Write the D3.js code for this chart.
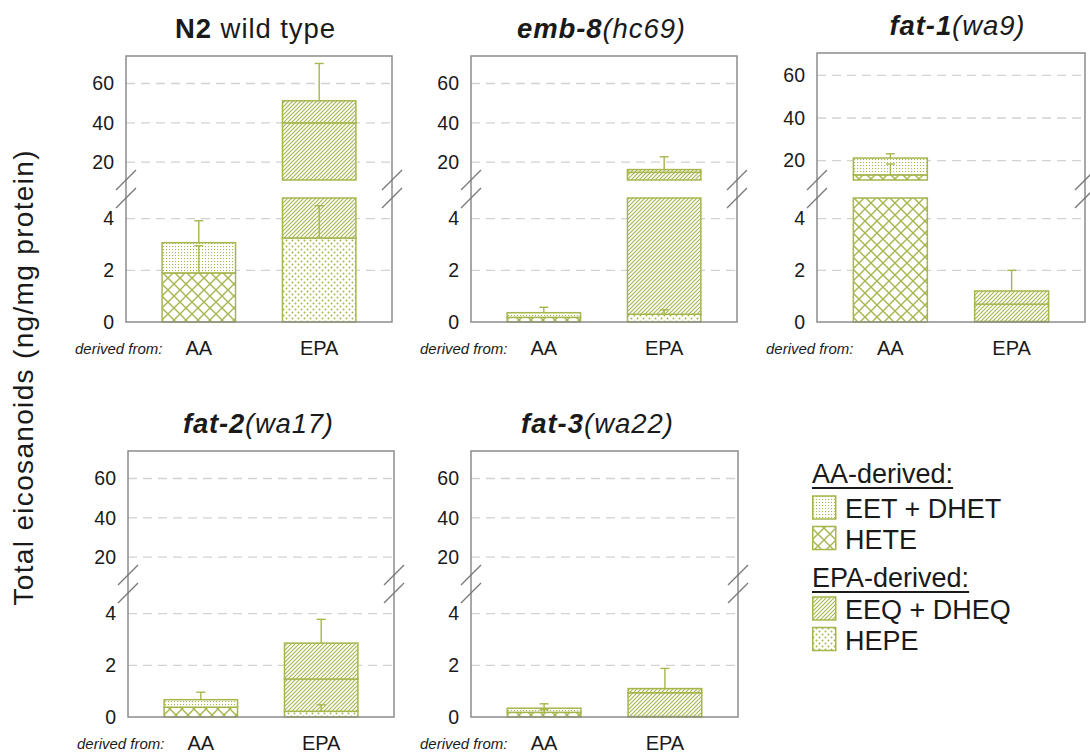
<!DOCTYPE html>
<html>
<head>
<meta charset="utf-8">
<script src="https://cdn.jsdelivr.net/npm/d3@7"></script>
<style>
    body { margin: 0; background: #fff; }
    text { font-family: "Liberation Sans", Arial, sans-serif; fill: #1a1a1a; }
</style>
</head>
<body>
<div id="chart"></div>
<script>
// ---- data (ng/mg protein) ----
const genotypes = ["N2", "emb-8", "fat-1", "fat-2", "fat-3"];
const alleles = [" wild type", "(hc69)", "(wa9)", "(wa17)", "(wa22)"];
const sources = ["AA", "EPA"];

// AA-derived
const hete = [1.9, 0.18, 13.3, 0.38, 0.18];
const heteErr = [1.05, 0, 5.1, 0, 0.1];
const eetDhet = [1.17, 0.18, 7.9, 0.29, 0.16];
const aaErr = [0.85, 0.21, 2.0, 0.29, 0.17];

// EPA-derived
const hepe = [3.25, 0.3, 0.02, 0.22, 0.02];
const hepeErr = [1.25, 0.17, 0, 0.25, 0];
const eeq = [36.75, 14.5, 0.67, 1.25, 0.92];
const dheq = [11.2, 1.4, 0.51, 1.39, 0.16];
const epaErr = [19, 6.5, 0.8, 0.92, 0.78];

// broken y axis
const lowerDomain = [0, 4.8];
const upperMin = 10.9;
const upperMax = [74, 74, 70.5, 74, 74];
const lowerTicks = [0, 2, 4];
const upperTicks = [20, 40, 60];

const legendAA = ["EET + DHET", "HETE"];
const legendEPA = ["EEQ + DHEQ", "HEPE"];

// ---- layout ----
const green = "#a7b54d";
const frameColor = "#8c8c8c";
const gridColor = "#d2d2d2";
const lowerPx = 124, gapPx = 18;

const layout = [
    {x: 126, top: 56, zero: 322, w: 266, titleCx: 255, titleW: 160},
    {x: 471, top: 56, zero: 322, w: 266, titleCx: 601, titleW: 168},
    {x: 817, top: 53, zero: 322, w: 268, titleCx: 957, titleW: 135},
    {x: 128, top: 451, zero: 717, w: 266, titleCx: 258, titleW: 150},
    {x: 471, top: 451, zero: 717, w: 267, titleCx: 597, titleW: 152}
];

const svg = d3.select("#chart").append("svg")
    .attr("width", 1090)
    .attr("height", 753);

// fill patterns
const defs = svg.append("defs");
function addPattern(id, w, h, draw) {
    let p = defs.append("pattern")
        .attr("id", id)
        .attr("patternUnits", "userSpaceOnUse")
        .attr("width", w)
        .attr("height", h);
    p.append("rect").attr("width", w).attr("height", h).attr("fill", "#fff");
    draw(p);
}
addPattern("pat-eet", 3, 3, p => p.append("rect")
    .attr("x", 1).attr("y", 1).attr("width", 1.1).attr("height", 1.1).attr("fill", green));
addPattern("pat-hete", 12, 12, p => p.append("path")
    .attr("d", "M0,0L12,12M12,0L0,12")
    .attr("stroke", green).attr("stroke-width", 1.4));
addPattern("pat-eeq", 4, 4, p => p.append("path")
    .attr("d", "M-1,1L1,-1M0,4L4,0M3,5L5,3")
    .attr("stroke", green).attr("stroke-width", 1.1));
addPattern("pat-hepe", 6, 6, p => {
    p.append("circle").attr("cx", 1.5).attr("cy", 1.5).attr("r", 1).attr("fill", green);
    p.append("circle").attr("cx", 4.5).attr("cy", 4.5).attr("r", 1).attr("fill", green);
});
const patternOf = {"EET + DHET": "pat-eet", "HETE": "pat-hete", "EEQ + DHEQ": "pat-eeq", "HEPE": "pat-hepe"};

// ---- panels ----
genotypes.forEach((g, i) => {
    const L = layout[i];
    const H = L.zero - L.top;
    const gp = svg.append("g").attr("transform", "translate(" + L.x + "," + L.top + ")");

    const x = d3.scaleBand().domain(sources).range([0, L.w]).paddingInner(0.39).paddingOuter(0.3);
    const yLow = d3.scaleLinear().domain(lowerDomain).range([H, H - lowerPx]);
    const yUp = d3.scaleLinear().domain([upperMin, upperMax[i]]).range([H - lowerPx - gapPx, 0]);
    const lowMax = lowerDomain[1];
    const yOf = v => v <= lowMax ? yLow(v) : yUp(Math.max(v, upperMin));

    // dashed grid
    gp.selectAll(".grid-low").data(lowerTicks.filter(d => d > 0)).join("line")
        .attr("x1", 0).attr("x2", L.w)
        .attr("y1", d => yLow(d)).attr("y2", d => yLow(d))
        .attr("stroke", gridColor).attr("stroke-width", 1.3).attr("stroke-dasharray", "9,6");
    gp.selectAll(".grid-up").data(upperTicks).join("line")
        .attr("x1", 0).attr("x2", L.w)
        .attr("y1", d => yUp(d)).attr("y2", d => yUp(d))
        .attr("stroke", gridColor).attr("stroke-width", 1.3).attr("stroke-dasharray", "9,6");

    // stacked segments
    let bars = [
        {src: "AA", segs: [
            {val: hete[i], err: heteErr[i], pat: "pat-hete"},
            {val: eetDhet[i], err: aaErr[i], pat: "pat-eet"}]},
        {src: "EPA", segs: [
            {val: hepe[i], err: hepeErr[i], pat: "pat-hepe"},
            {val: eeq[i], err: 0, pat: "pat-eeq"},
            {val: dheq[i], err: epaErr[i], pat: "pat-eeq"}]}
    ];

    bars.forEach(b => {
        let bx = x(b.src), bw = x.bandwidth(), cx = bx + bw / 2;
        let base = 0;
        let errs = [];
        b.segs.forEach(s => {
            let v0 = base, v1 = base + s.val;
            let pieces = [];
            if (v0 < lowMax) pieces.push([yLow(v0), yLow(Math.min(v1, lowMax))]);
            if (v1 > upperMin) pieces.push([yUp(Math.max(v0, upperMin)), yUp(v1)]);
            pieces.forEach(p => {
                gp.append("rect")
                    .attr("x", bx).attr("width", bw)
                    .attr("y", p[1]).attr("height", Math.max(0, p[0] - p[1]))
                    .attr("fill", "url(#" + s.pat + ")")
                    .attr("stroke", green).attr("stroke-width", 1.5);
            });
            if (s.err > 0) errs.push([v1, v1 + s.err]);
            base = v1;
        });
        errs.forEach(e => {
            gp.append("line")
                .attr("x1", cx).attr("x2", cx)
                .attr("y1", yOf(e[0])).attr("y2", yOf(e[1]))
                .attr("stroke", green).attr("stroke-width", 1.4);
            gp.append("line")
                .attr("x1", cx - 4.5).attr("x2", cx + 4.5)
                .attr("y1", yOf(e[1])).attr("y2", yOf(e[1]))
                .attr("stroke", green).attr("stroke-width", 1.4);
        });
    });

    // frame
    gp.append("rect")
        .attr("width", L.w).attr("height", H)
        .attr("fill", "none").attr("stroke", frameColor).attr("stroke-width", 1.5);

    // break marks on both sides
    [0, L.w].forEach(bx => {
        [H - lowerPx, H - lowerPx - gapPx].forEach(by => {
            gp.append("line")
                .attr("x1", bx - 10).attr("y1", by + 10)
                .attr("x2", bx + 10).attr("y2", by - 10)
                .attr("stroke", "#777").attr("stroke-width", 1.3);
        });
    });

    // y axis labels
    let axLow = gp.append("g").call(d3.axisLeft(yLow).tickValues(lowerTicks)
        .tickFormat(d3.format("d")).tickSize(0).tickPadding(12));
    let axUp = gp.append("g").call(d3.axisLeft(yUp).tickValues(upperTicks)
        .tickFormat(d3.format("d")).tickSize(0).tickPadding(12));
    [axLow, axUp].forEach(a => {
        a.select(".domain").remove();
        a.selectAll("text").attr("font-size", 19.5).attr("fill", "#1a1a1a")
            .attr("font-family", "Liberation Sans, Arial, sans-serif");
    });

    // category labels
    gp.selectAll(".cat").data(sources).join("text")
        .attr("x", d => x(d) + x.bandwidth() / 2)
        .attr("y", H + 33)
        .attr("text-anchor", "middle")
        .attr("font-size", 20)
        .text(d => d);
    gp.append("text")
        .attr("x", -51).attr("y", H + 32)
        .attr("font-size", 15).attr("font-style", "italic")
        .attr("fill", "#333")
        .text("derived from:");

    // title
    let t = svg.append("text")
        .attr("x", L.titleCx).attr("y", L.top - 18)
        .attr("text-anchor", "middle")
        .attr("font-size", 27.5)
        .attr("textLength", L.titleW)
        .attr("lengthAdjust", "spacing");
    t.append("tspan").attr("font-weight", "bold")
        .attr("font-style", i === 0 ? "normal" : "italic").text(g);
    t.append("tspan").attr("font-style", i === 0 ? "normal" : "italic").text(alleles[i]);
});

// y axis title
svg.append("text")
    .attr("transform", "translate(33,378) rotate(-90)")
    .attr("text-anchor", "middle")
    .attr("font-size", 28)
    .attr("textLength", 455)
    .attr("lengthAdjust", "spacing")
    .text("Total eicosanoids (ng/mg protein)");

// ---- legend ----
const leg = svg.append("g").attr("transform", "translate(812,0)");
function legendBlock(title, items, titleY, firstY) {
    let tt = leg.append("text").attr("x", 0).attr("y", titleY).attr("font-size", 27).text(title);
    let tw = tt.node().getComputedTextLength();
    leg.append("line").attr("x1", 0).attr("x2", tw).attr("y1", titleY + 5).attr("y2", titleY + 5)
        .attr("stroke", "#1a1a1a").attr("stroke-width", 2);
    items.forEach((d, k) => {
        let y0 = firstY + k * 30.5;
        leg.append("rect").attr("x", 0.75).attr("y", y0).attr("width", 23).attr("height", 23)
            .attr("fill", "url(#" + patternOf[d] + ")").attr("stroke", green).attr("stroke-width", 1.5);
        leg.append("text").attr("x", 33).attr("y", y0 + 22).attr("font-size", 27).text(d);
    });
}
legendBlock("AA-derived:", legendAA, 483, 496);
legendBlock("EPA-derived:", legendEPA, 587, 597);
</script>
</body>
</html>
